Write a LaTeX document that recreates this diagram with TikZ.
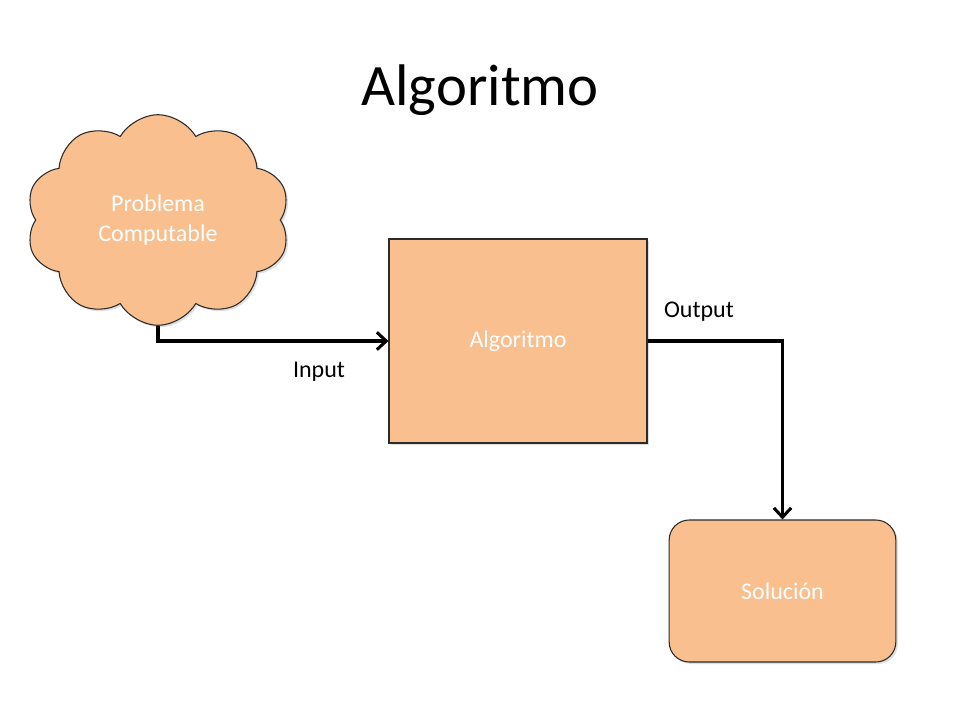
\documentclass[tikz,border=0pt]{standalone}
\usepackage{fontspec}
\setmainfont{Carlito}
\usetikzlibrary{shapes.symbols,arrows.meta,shadows}
\definecolor{peach}{HTML}{F9BF8F}
\definecolor{edge}{HTML}{2B2B2B}
\begin{document}
\begin{tikzpicture}[x=0.75pt,y=-0.75pt,
  shape box/.style={fill=peach,draw=edge,line width=0.8pt,
    drop shadow={shadow xshift=1.5pt,shadow yshift=-1.5pt,opacity=0.25},
    text=white,font=\fontsize{18}{22}\selectfont,align=center},
  conn/.style={line width=2.5pt,-{Straight Barb[length=7pt,width=13pt,line width=2.3pt]}},
  lbl/.style={font=\fontsize{18}{22}\selectfont,text=black}]
\fill[white] (0,0) rectangle (960,720);
\useasboundingbox (0,0) rectangle (960,720);
\node[font=\fontsize{44}{52}\selectfont] (title) at (480,90) {Algoritmo};
\node[shape box,cloud,cloud puffs=10,cloud puff arc=120,aspect=1.25,
  minimum width=198pt,minimum height=158pt,inner sep=0pt] (cloud) at (158,220) {Problema\\Computable};
\node[shape box,rectangle,minimum width=193.5pt,minimum height=153pt] (algo) at (518,341) {Algoritmo};
\node[shape box,rectangle,rounded corners=15pt,minimum width=170pt,minimum height=106.5pt] (sol) at (782.5,591) {Solución};
\draw[conn] (cloud.south) |- (algo.west);
\draw[conn] (algo.east) -| (sol.north);
\node[lbl] (inlbl) at (319,372) {Input};
\node[lbl] (outlbl) at (699,312) {Output};
\end{tikzpicture}
\end{document}
